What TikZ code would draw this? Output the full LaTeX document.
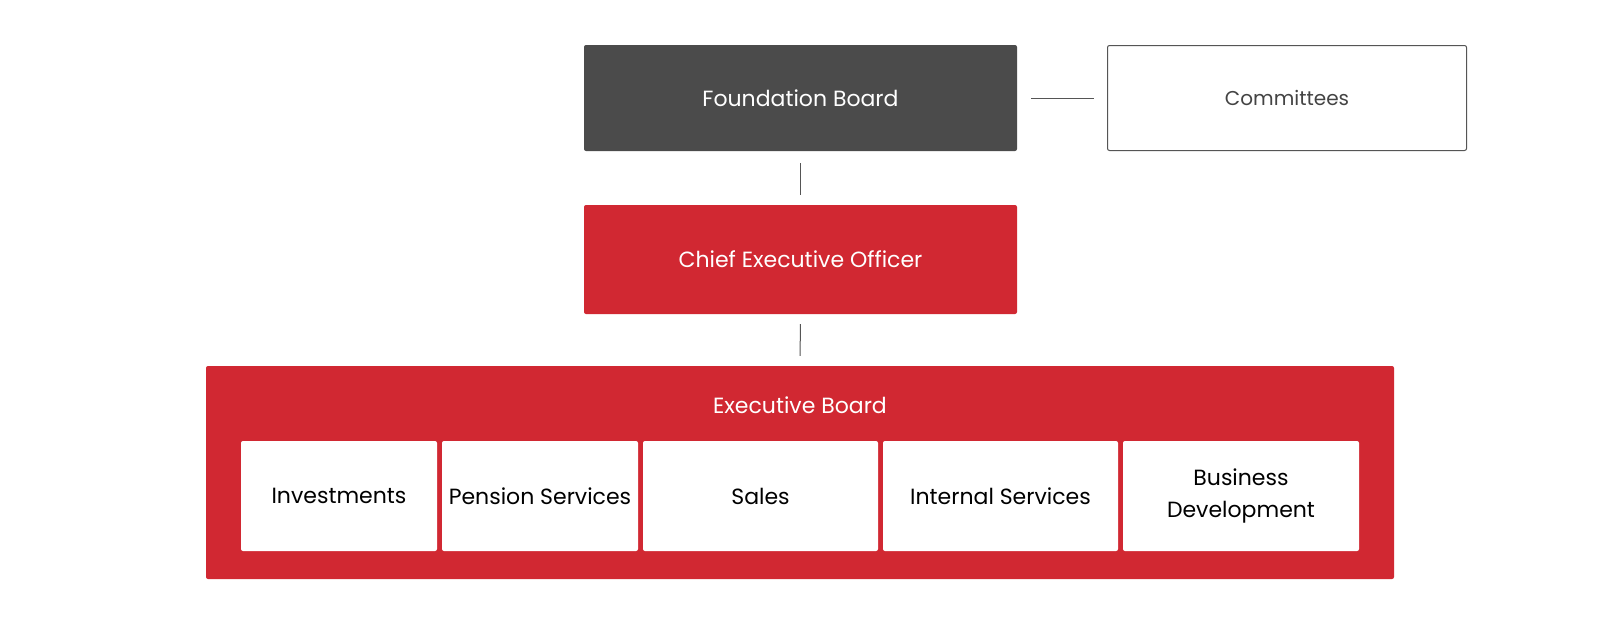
\documentclass[tikz,border=0pt]{standalone}
\usepackage{fontspec}
\setmainfont{Poppins}
\definecolor{darkbox}{HTML}{4B4B4B}
\definecolor{redbox}{HTML}{D12832}
\definecolor{linegray}{HTML}{555555}
\definecolor{textgray}{HTML}{444444}
\begin{document}
\begin{tikzpicture}[x=1pt,y=-1pt,
  box/.style={rectangle, rounded corners=2pt, inner sep=0pt, align=center, font=\fontsize{22}{32}\selectfont},
  darkfill/.style={box, fill=darkbox, text=white},
  redfill/.style={box, fill=redbox, text=white},
  outline/.style={box, draw=linegray, line width=1pt, fill=white, text=textgray, font=\fontsize{20}{24}\selectfont},
  unit/.style={box, fill=white, text=black, minimum height=110pt},
  conn/.style={draw=linegray, line width=1pt}
]
\useasboundingbox[fill=white] (0,0) rectangle (1600,624);
\node[darkfill, minimum width=433pt, minimum height=106pt] (fb) at (800.5,98) {Foundation Board};
\node[outline, minimum width=359pt, minimum height=105pt] (com) at (1287,98) {Committees};
\node[redfill, minimum width=433pt, minimum height=109pt] (ceo) at (800.5,259.5) {Chief Executive Officer};
\node[redfill, minimum width=1188pt, minimum height=213pt] (eb) at (800,472.5) {};
\node[text=white, font=\fontsize{22}{32}\selectfont, inner sep=0pt] (ebt) at (800,405) {Executive Board};
\node[unit, minimum width=196pt] (inv) at (339,496) {Investments};
\node[unit, minimum width=196pt] (pen) at (540,496) {Pension Services};
\node[unit, minimum width=235pt] (sal) at (760.5,496) {Sales};
\node[unit, minimum width=235pt] (int) at (1000.5,496) {Internal Services};
\node[unit, minimum width=236pt] (bus) at (1241,496) {Business\\Development};
\draw[conn, shorten <=14pt, shorten >=13pt] (fb.east) -- (com.west);
\draw[conn, shorten <=12pt, shorten >=10pt] (fb.south) -- (ceo.north);
\draw[conn, shorten <=10pt, shorten >=10pt] (ceo.south) -- (eb.north);
\end{tikzpicture}
\end{document}
